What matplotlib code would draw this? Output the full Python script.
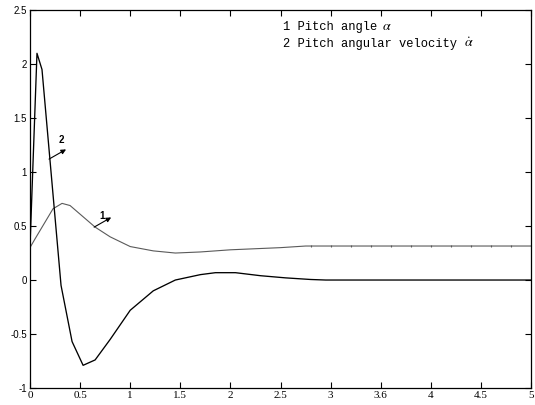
import matplotlib
matplotlib.use("Agg")
import matplotlib.pyplot as plt

# ---- data ----
t_rate = [0, 0.07, 0.12, 0.31, 0.42, 0.53, 0.65, 0.8, 1.0, 1.23, 1.45, 1.7,
          1.85, 2.05, 2.3, 2.55, 2.8, 2.95, 5.0]
v_rate = [0.3, 2.1, 1.95, -0.05, -0.57, -0.79, -0.74, -0.55, -0.28, -0.1, 0.0, 0.05,
          0.068, 0.068, 0.04, 0.02, 0.005, 0.0, 0.0]

t_angle = [0, 0.05, 0.23, 0.32, 0.4, 0.65, 0.8, 1.0, 1.23, 1.45, 1.7, 2.0, 2.5, 2.75,
           2.8, 3.0, 3.2, 3.4, 3.6, 3.8, 4.0, 4.2, 4.4, 4.6, 4.8, 5.0]
v_angle = [0.3, 0.38, 0.66, 0.71, 0.69, 0.49, 0.4, 0.31, 0.27, 0.25, 0.26, 0.28, 0.30, 0.315,
           0.315, 0.315, 0.315, 0.315, 0.315, 0.315, 0.315, 0.315, 0.315, 0.315, 0.315, 0.315]
mark_t = [2.8, 3.0, 3.2, 3.4, 3.6, 3.8, 4.0, 4.2, 4.4, 4.6, 4.8]
mark_v = [0.315] * len(mark_t)

xticks = [0, 0.5, 1, 1.5, 2, 2.5, 3, 3.5, 4, 4.5, 5]
xticklabels = ["0", "0.5", "1", "1.5", "2", "2.5", "3", "3.6", "4", "4.5", "5"]
yticks = [-1, -0.5, 0, 0.5, 1, 1.5, 2, 2.5]
yticklabels = ["-1", "-0.5", "0", "0.5", "1", "1.5", "2", "2.5"]

legend_lines = ["1 Pitch angle", "2 Pitch angular velocity"]
legend_syms = [r"$\alpha$", r"$\dot{\alpha}$"]

# ---- figure ----
plt.rcParams["mathtext.fontset"] = "stix"
fig = plt.figure(figsize=(5.35, 4.05), dpi=100)
ax = fig.add_axes([0.056, 0.042, 0.937, 0.933])

ax.plot(t_angle, v_angle, color="#5a5a5a", lw=0.8)
ax.plot(mark_t, mark_v, linestyle="none", marker="|", markersize=1.8,
        color="#5a5a5a", markeredgewidth=0.8)
ax.plot(t_rate, v_rate, color="black", lw=0.95)

ax.set_xlim(0, 5)
ax.set_ylim(-1, 2.5)
ax.set_xticks(xticks)
ax.set_xticklabels(xticklabels, fontfamily="Liberation Serif", fontsize=8)
ax.set_yticks(yticks)
ax.set_yticklabels(yticklabels, fontfamily="Liberation Sans", fontsize=7)
ax.tick_params(direction="in", top=True, right=True, length=4, width=0.8,
               pad=2, colors="black")
for s in ax.spines.values():
    s.set_linewidth(0.9)

# annotations
ax.annotate("", xy=(0.36, 1.21), xytext=(0.19, 1.12),
            arrowprops=dict(arrowstyle="-|>", lw=0.8, color="black",
                            mutation_scale=7, shrinkA=0, shrinkB=0))
ax.text(0.315, 1.25, "2", fontsize=7, fontweight="bold",
        fontfamily="Liberation Sans", ha="center", va="bottom")
ax.annotate("", xy=(0.81, 0.58), xytext=(0.64, 0.49),
            arrowprops=dict(arrowstyle="-|>", lw=0.8, color="black",
                            mutation_scale=7, shrinkA=0, shrinkB=0))
ax.text(0.72, 0.55, "1", fontsize=7, fontweight="bold",
        fontfamily="Liberation Sans", ha="center", va="bottom")

# legend-like text
ly = [0.955, 0.91]
sym_x = [0.703, 0.865]
for i in range(2):
    ax.text(0.505, ly[i], legend_lines[i], transform=ax.transAxes,
            fontfamily="Liberation Mono", fontsize=8.7, va="center", ha="left")
    ax.text(sym_x[i], ly[i] + 0.003, legend_syms[i], transform=ax.transAxes,
            fontsize=10, fontweight="bold", va="center", ha="left")

fig.savefig("out.png", dpi=100)
